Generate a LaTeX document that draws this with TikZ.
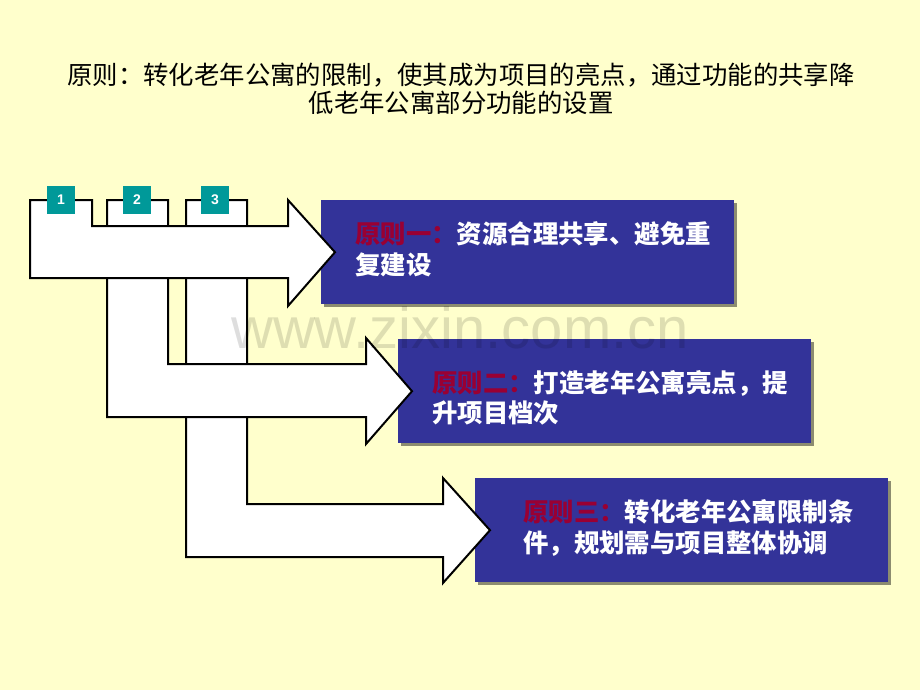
\documentclass[tikz,border=0pt]{standalone}
\usepackage{fontspec}
\setmainfont{Liberation Sans}
\newfontfamily\cjk{Noto Sans CJK SC}
\usepackage{tikz}
\usetikzlibrary{shadows}

\definecolor{bgyellow}{RGB}{255,255,204}
\definecolor{boxblue}{RGB}{51,51,153}
\definecolor{headred}{RGB}{153,0,51}
\definecolor{badgeteal}{RGB}{0,153,153}

\begin{document}
\begin{tikzpicture}[x=1pt, y=-1pt,
    arrowshape/.style={draw=black, fill=white, line width=2pt, line join=miter},
    principle/.style={fill=boxblue, minimum width=413pt, minimum height=104pt,
        anchor=north west, inner sep=0pt,
        drop shadow={shadow xshift=3pt, shadow yshift=-3pt, fill=black, opacity=0.45}},
    principletext/.style={anchor=west, align=left, text=white, inner sep=0pt,
        font=\cjk\bfseries\fontsize{25.4}{30.5}\selectfont},
    badge/.style={fill=badgeteal, minimum size=28pt, inner sep=0pt, text=white,
        font=\bfseries\fontsize{14}{14}\selectfont}]
    % Background
    \useasboundingbox (0,0) rectangle (920,690);
    \fill[bgyellow] (0,0) rectangle (920,690);

    % Title
    \node[align=center, font=\cjk\fontsize{25.4}{28}\selectfont] (title) at (461,89)
        {原则：转化老年公寓的限制，使其成为项目的亮点，通过功能的共享降\\低老年公寓部分功能的设置};

    % Principle boxes
    \node[principle] (p1) at (321,200) {};
    \node[principle] (p2) at (398,339) {};
    \node[principle] (p3) at (475,478) {};

    \node[principletext] (t1) at (355,249)
        {\textcolor{headred}{原则一：}资源合理共享、避免重\\复建设};
    \node[principletext] (t2) at (432,398)
        {\textcolor{headred}{原则二：}打造老年公寓亮点，提\\升项目档次};
    \node[principletext] (t3) at (523,528)
        {\textcolor{headred}{原则三：}转化老年公寓限制条\\件，规划需与项目整体协调};

    % Arrows (back to front)
    \draw[arrowshape] (186,200) -- (247,200) -- (247,504) -- (443,504) -- (443,478)
        -- ([xshift=15pt]p3.west) -- (443,583) -- (443,557) -- (186,557) -- cycle;
    \draw[arrowshape] (107,200) -- (168,200) -- (168,364) -- (366,364) -- (366,338)
        -- ([xshift=14pt]p2.west) -- (366,444) -- (366,417) -- (107,417) -- cycle;
    \draw[arrowshape] (30,200) -- (92,200) -- (92,226) -- (288,226) -- (288,200)
        -- ([xshift=14pt]p1.west) -- (288,306) -- (288,278) -- (30,278) -- cycle;

    % Number badges
    \node[badge] (b1) at (61,200) {1};
    \node[badge] (b2) at (137,200) {2};
    \node[badge] (b3) at (215,200) {3};

    % Watermark
    \node[text=black, opacity=0.13, font=\fontsize{58}{58}\selectfont] (mark) at (460,328)
        {www.zixin.com.cn};
\end{tikzpicture}
\end{document}
